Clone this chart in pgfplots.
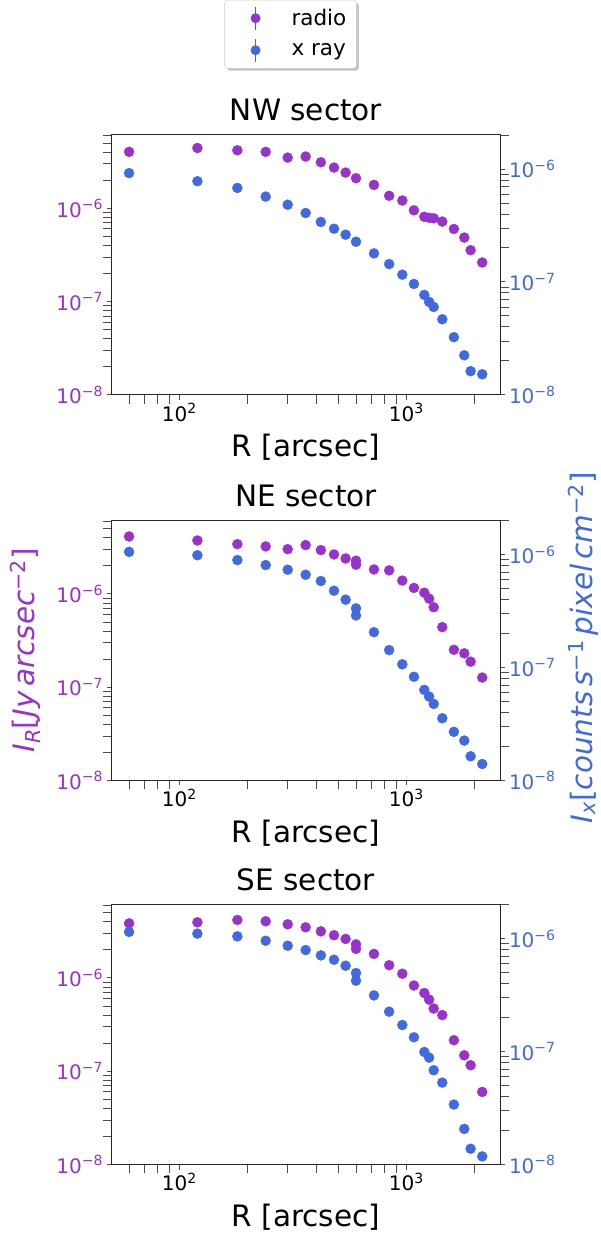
\documentclass[border=0pt]{standalone}
\usepackage{fontspec}
\setmainfont{DejaVu Sans}
\usepackage{pgfplots}
\usepackage{pgfplotstable}
\pgfplotsset{compat=1.18}
\usetikzlibrary{shadows}
\definecolor{radioc}{RGB}{153,50,204}
\definecolor{xrayc}{RGB}{65,105,225}

\pgfplotstableread{
R radio xray
60 4.02e-6 9.2e-7
120 4.42e-6 7.8e-7
180 4.18e-6 6.8e-7
240 4.02e-6 5.7e-7
300 3.49e-6 4.83e-7
360 3.58e-6 4.08e-7
420 3.11e-6 3.4e-7
480 2.73e-6 2.96e-7
540 2.41e-6 2.62e-7
600 2.10e-6 2.27e-7
720 1.78e-6 1.79e-7
840 1.36e-6 1.44e-7
960 1.21e-6 1.16e-7
1080 9.5e-7 9.6e-8
1200 8.1e-7 7.67e-8
1260 7.9e-7 6.65e-8
1320 7.8e-7 6.0e-8
1440 7.2e-7 4.67e-8
1620 6.0e-7 3.24e-8
1800 4.85e-7 2.24e-8
1920 3.55e-7 1.62e-8
2160 2.62e-7 1.52e-8
}\nwdata

\pgfplotstableread{
R radio xray
60 4.13e-6 1.06e-6
120 3.74e-6 9.9e-7
180 3.42e-6 8.97e-7
240 3.23e-6 8.1e-7
300 3.02e-6 7.37e-7
360 3.34e-6 6.65e-7
420 2.95e-6 5.85e-7
480 2.65e-6 4.8e-7
540 2.40e-6 4.0e-7
600 2.27e-6 3.35e-7
600 2.06e-6 2.9e-7
720 1.83e-6 2.06e-7
840 1.79e-6 1.43e-7
960 1.39e-6 1.07e-7
1080 1.16e-6 8.3e-8
1200 1.03e-6 6.35e-8
1260 8.9e-7 5.54e-8
1320 7.2e-7 4.77e-8
1440 4.41e-7 3.56e-8
1620 2.52e-7 2.7e-8
1800 2.31e-7 2.26e-8
1920 1.88e-7 1.64e-8
2160 1.27e-7 1.40e-8
}\nedata

\pgfplotstableread{
R radio xray
60 3.85e-6 1.15e-6
120 3.95e-6 1.11e-6
180 4.18e-6 1.05e-6
240 4.05e-6 9.6e-7
300 3.76e-6 8.67e-7
360 3.49e-6 7.94e-7
420 3.16e-6 7.12e-7
480 2.87e-6 6.52e-7
540 2.62e-6 5.77e-7
600 2.29e-6 4.97e-7
600 2.05e-6 4.25e-7
720 1.81e-6 3.15e-7
840 1.37e-6 2.26e-7
960 1.11e-6 1.72e-7
1080 8.3e-7 1.34e-7
1200 6.9e-7 9.93e-8
1260 5.86e-7 8.85e-8
1320 4.7e-7 6.84e-8
1440 4.0e-7 5.32e-8
1620 2.15e-7 3.4e-8
1800 1.48e-7 2.07e-8
1920 1.16e-7 1.38e-8
2160 6.0e-8 1.18e-8
}\sedata

\newcommand{\tl}[1]{10\textsuperscript{−#1}}
\newcommand{\bigfont}{\fontsize{29.5}{35}\selectfont}
\newcommand{\legimg}[1]{\pgfpathrectangle{\pgfpoint{0pt}{-12pt}}{\pgfpoint{57pt}{24pt}}\pgfusepath{use as bounding box}%
  \pgfsetlinewidth{1.5pt}\pgfsetstrokecolor{#1}\pgfsetfillcolor{#1}%
  \pgfpathmoveto{\pgfpoint{23pt}{-11.5pt}}\pgfpathlineto{\pgfpoint{23pt}{11.5pt}}\pgfusepath{stroke}%
  \pgfpathcircle{\pgfpoint{23pt}{0pt}}{5pt}\pgfusepath{fill}}

\pgfplotsset{
  zzbase/.style={
    scale only axis, width=389pt, height=260.5pt,
    xmin=50.2, xmax=2600, ymin=1e-8,
    tick align=outside,
    major tick length=5pt, minor tick length=9pt,
    axis line style={line width=0.9pt, black!85},
    every tick/.style={line width=0.9pt, black!70},
    tick label style={font=\fontsize{20}{23}\selectfont},
  },
  zzradioax/.style={zzbase, ymax=6.2e-6,
    tick pos=left,
    xtick={100,1000}, xticklabels={10\textsuperscript{2},10\textsuperscript{3}},
    minor xtick={60,70,80,90,200,300,400,500,600,700,800,900,2000},
    ytick={1e-8,1e-7,1e-6}, yticklabels={\tl8,\tl7,\tl6},
    minor ytick={2e-8,3e-8,4e-8,5e-8,6e-8,7e-8,8e-8,9e-8,2e-7,3e-7,4e-7,5e-7,6e-7,7e-7,8e-7,9e-7,2e-6,3e-6,4e-6,5e-6,6e-6},
    yticklabel style={text=radioc},
    title style={font=\bigfont, at={(axis description cs:0.5,1)}, anchor=base, yshift=8pt},
    xlabel={R [arcsec]},
    xlabel style={font=\bigfont, at={(axis description cs:0.5,0)}, anchor=base, yshift=-61.7pt},
    ylabel style={font=\bigfont, text=radioc, at={(axis description cs:-0.222,0.5)}, anchor=center},
  },
  zzxrayax/.style={zzbase, ymax=2.03e-6,
    axis x line=none, axis y line*=right,
    ytick={1e-8,1e-7,1e-6}, yticklabels={\tl8,\tl7,\tl6},
    minor ytick={2e-8,3e-8,4e-8,5e-8,6e-8,7e-8,8e-8,9e-8,2e-7,3e-7,4e-7,5e-7,6e-7,7e-7,8e-7,9e-7,2e-6},
    yticklabel style={text=xrayc},
  },
}

\begin{document}
\begin{tikzpicture}
\useasboundingbox (0,0) rectangle (601pt,-1236pt);

% ---------------- NW ----------------
\begin{loglogaxis}[zzradioax, at={(111.5pt,-134.3pt)}, anchor=north west, title={NW sector},
  legend style={at={(axis description cs:0.460,1.5155)}, anchor=north,
    font=\fontsize{21.5}{25}\selectfont, draw=black!20, fill=white, rounded corners=3pt,
    drop shadow={shadow xshift=2.5pt, shadow yshift=-2.5pt, fill=black!45},
    row sep=8pt, inner xsep=8pt, inner ysep=6pt},
  legend cell align=left]
\addplot[only marks, mark=*, mark size=5pt, color=radioc, fill=radioc, forget plot] table[x=R, y=radio] {\nwdata};
\addlegendimage{legend image code/.code={\legimg{radioc}}}
\addlegendentry{radio}
\addlegendimage{legend image code/.code={\legimg{xrayc}}}
\addlegendentry{x ray}
\end{loglogaxis}
\begin{loglogaxis}[zzxrayax, at={(111.5pt,-134.3pt)}, anchor=north west]
\addplot[only marks, mark=*, mark size=5pt, color=xrayc, fill=xrayc] table[x=R, y=xray] {\nwdata};
\end{loglogaxis}

% ---------------- NE ----------------
\begin{loglogaxis}[zzradioax, at={(111.5pt,-520pt)}, anchor=north west, title={NE sector},
  ylabel={{\itshape I}\textsubscript{\itshape R}[{\itshape Jy}\,{\itshape arcsec}\textsuperscript{−2}]}]
\addplot[only marks, mark=*, mark size=5pt, color=radioc, fill=radioc] table[x=R, y=radio] {\nedata};
\end{loglogaxis}
\begin{loglogaxis}[zzxrayax, at={(111.5pt,-520pt)}, anchor=north west,
  after end axis/.code={\node[rotate=90, font=\bigfont, text=xrayc, anchor=center, inner sep=0pt] at (axis description cs:1.212,0.51) {{\itshape I}\textsubscript{\itshape x}[{\itshape counts}\,{\itshape s}\textsuperscript{−1}\,{\itshape pixel}\,{\itshape cm}\textsuperscript{−2}]};}]
\addplot[only marks, mark=*, mark size=5pt, color=xrayc, fill=xrayc] table[x=R, y=xray] {\nedata};
\end{loglogaxis}

% ---------------- SE ----------------
\begin{loglogaxis}[zzradioax, at={(111.5pt,-904pt)}, anchor=north west, title={SE sector}]
\addplot[only marks, mark=*, mark size=5pt, color=radioc, fill=radioc] table[x=R, y=radio] {\sedata};
\end{loglogaxis}
\begin{loglogaxis}[zzxrayax, at={(111.5pt,-904pt)}, anchor=north west]
\addplot[only marks, mark=*, mark size=5pt, color=xrayc, fill=xrayc] table[x=R, y=xray] {\sedata};
\end{loglogaxis}
\end{tikzpicture}
\end{document}
